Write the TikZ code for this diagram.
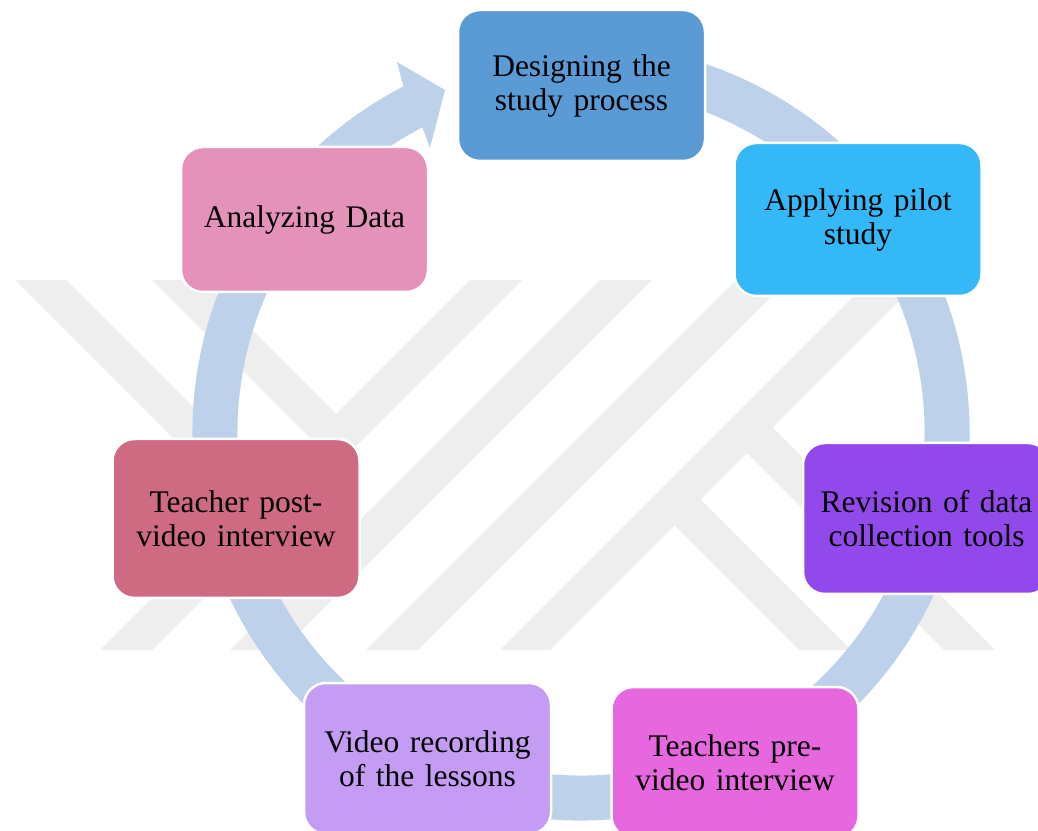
\documentclass[tikz,border=0pt]{standalone}
\usepackage{fontspec}
\setmainfont{Liberation Serif}
\usetikzlibrary{calc}
\definecolor{ringc}{RGB}{189,209,234}
\definecolor{wmark}{RGB}{238,238,238}
\definecolor{cDesign}{RGB}{91,155,213}
\definecolor{cApply}{RGB}{52,184,248}
\definecolor{cRevise}{RGB}{145,73,236}
\definecolor{cPre}{RGB}{231,104,222}
\definecolor{cVideo}{RGB}{196,156,243}
\definecolor{cPost}{RGB}{206,107,131}
\definecolor{cAnalyze}{RGB}{229,146,187}
\begin{document}
\begin{tikzpicture}[x=1pt,y=1pt,
  box/.style={rectangle, rounded corners=22pt, draw=white, line width=2.5pt,
    inner sep=0pt, minimum width=247pt, minimum height=151pt, text width=247pt,
    align=center, text=black, font=\fontsize{31.5}{34}\selectfont},
  wm/.style={fill=wmark}]
\useasboundingbox (0,0) rectangle (1038,830);
\clip (0,0) rectangle (1038,830);
\fill[white] (0,0) rectangle (1038,830);
% watermark
\fill[wm] (15,550) -- (66,550) -- (268,348) -- (268.5,296.5) -- cycle;
\fill[wm] (152,550) -- (202,550) -- (336,416) -- (337,365) -- cycle;
\fill[wm] (470,550) -- (522,550) -- (152,180) -- (100,180) -- cycle;
\fill[wm] (600,550) -- (652,550) -- (282,180) -- (230,180) -- cycle;
\fill[wm] (736,550) -- (788,550) -- (418,180) -- (366,180) -- cycle;
\fill[wm] (870,550) -- (920,550) -- (550,180) -- (500,180) -- cycle;
\fill[wm] (674.5,304.5) -- (700.5,330.5) -- (851,180) -- (799,180) -- cycle;
\fill[wm] (747,377) -- (772.5,402.5) -- (995,180) -- (944,180) -- cycle;
% ring arrow
\coordinate (C) at (581,398);
\fill[ringc] ($(C)+(100:388.5)$) arc[start angle=100,end angle=-242.8,radius=388.5]
  -- ($(C)+(-243.56:413.2)$) -- ($(C)+(-248.31:368)$) -- ($(C)+(-242:321.7)$)
  -- ($(C)+(-242.5:343.5)$) arc[start angle=-242.5,end angle=100,radius=343.5] -- cycle;
% boxes
\node[box, fill=cDesign] (n1) at (581.5,744.5) {Designing the\\study process};
\node[box, fill=cApply, minimum height=153pt] (n2) at (858,610.5) {Applying pilot\\study};
\node[box, fill=cRevise] (n3) at (926.5,311.5) {Revision of data\\collection tools};
\node[box, fill=cPre] (n4) at (735,67.5) {Teachers pre-\\video interview};
\node[box, fill=cVideo] (n5) at (427.5,71.5) {Video recording\\of the lessons};
\node[box, fill=cPost, minimum height=159pt] (n6) at (236,311.5) {Teacher post-\\video interview};
\node[box, fill=cAnalyze, minimum height=145pt] (n7) at (304.5,610.5) {Analyzing Data};
\end{tikzpicture}
\end{document}
